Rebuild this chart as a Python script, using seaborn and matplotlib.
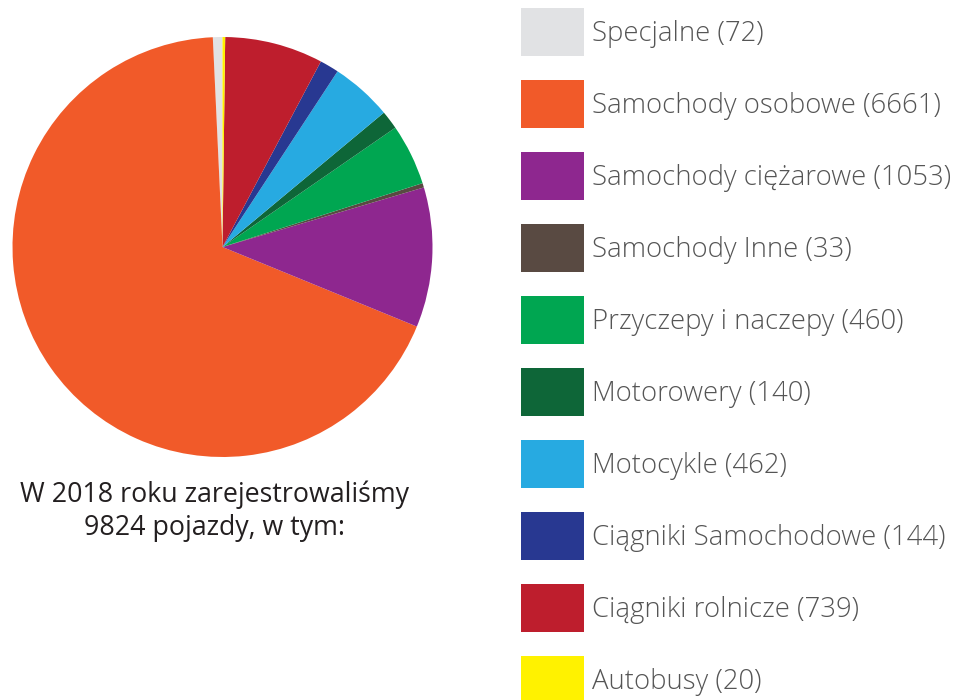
import matplotlib.pyplot as plt
import seaborn as sns

# vehicles registered in 2018, by category
categories = [
    "Specjalne",
    "Samochody osobowe",
    "Samochody ciężarowe",
    "Samochody Inne",
    "Przyczepy i naczepy",
    "Motorowery",
    "Motocykle",
    "Ciągniki Samochodowe",
    "Ciągniki rolnicze",
    "Autobusy",
]
counts = [72, 6661, 1053, 33, 460, 140, 462, 144, 739, 20]
colors = [
    "#E1E2E4",
    "#F15A29",
    "#8E278F",
    "#594A42",
    "#00A651",
    "#0E6638",
    "#27AAE1",
    "#283891",
    "#BE1E2D",
    "#FFF200",
]
caption = "W 2018 roku zarejestrowaliśmy\n9824 pojazdy, w tym:"


def main():
    sns.set_style("white")
    plt.rcParams["font.family"] = ["Open Sans", "DejaVu Sans"]

    W, H = 962, 700
    fig = plt.figure(figsize=(W / 100, H / 100), dpi=100)

    # pie centred at (222.5, 247) px, radius 210 px
    cx, cy, r = 222.5, 247, 210
    ax = fig.add_axes([(cx - r) / W, 1 - (cy + r) / H, 2 * r / W, 2 * r / H])
    wedges, _ = ax.pie(
        counts,
        colors=colors,
        startangle=90,
        counterclock=True,
        radius=1.0,
        wedgeprops=dict(linewidth=0),
    )
    ax.set_xlim(-1, 1)
    ax.set_ylim(-1, 1)
    ax.set_aspect("equal")
    ax.axis("off")

    labels = [f"{c} ({n})" for c, n in zip(categories, counts)]
    fs = 19.8
    # legend handle box: 63 x 48 px, 24 px between rows
    h_pt = 48 * 0.72
    hh = (h_pt / fs - 0.245) / 0.65
    leg = fig.legend(
        wedges,
        labels,
        loc="upper left",
        bbox_to_anchor=(521 / W, 1 - 8 / H),
        bbox_transform=fig.transFigure,
        frameon=False,
        fontsize=fs,
        handlelength=63 * 0.72 / fs,
        handleheight=hh,
        handletextpad=8 * 0.72 / fs,
        labelspacing=24 * 0.72 / fs,
        borderpad=0,
        borderaxespad=0,
    )
    for t in leg.get_texts():
        t.set_color("#555555")
        t.set_fontweight("light")

    fig.text(
        215 / W,
        1 - 511 / H,
        caption,
        ha="center",
        va="center",
        fontsize=19.3,
        color="#231F20",
        linespacing=1.22,
    )

    fig.savefig("out.png", dpi=100)


if __name__ == "__main__":
    main()
